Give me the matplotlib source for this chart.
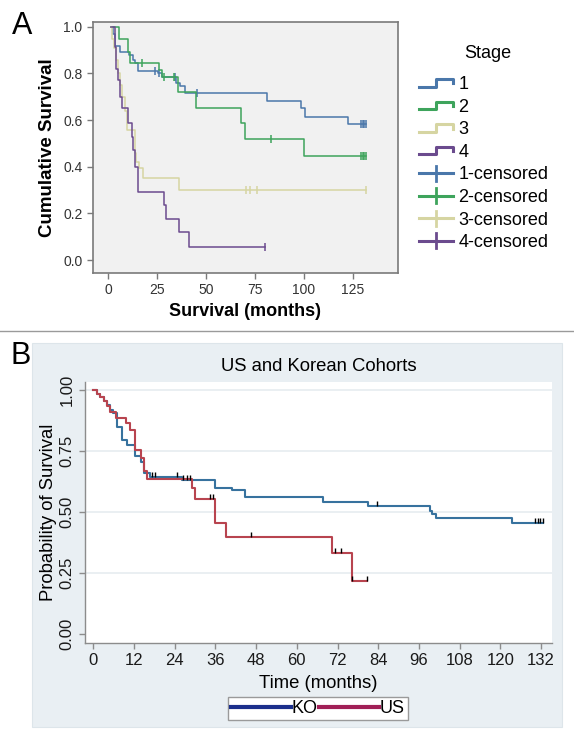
import numpy as np
import matplotlib

matplotlib.use("Agg")
import matplotlib.pyplot as plt
from matplotlib.legend_handler import HandlerBase
from matplotlib.lines import Line2D
from matplotlib.patches import Rectangle

plt.rcParams["font.family"] = ["Liberation Sans", "DejaVu Sans"]

# ---- panel A: Kaplan-Meier by stage (SPSS style) ----
stage_labels = ["1", "2", "3", "4"]
stage_colors = ["#4a77aa", "#3ea45c", "#d6d5a2", "#6b4b8e"]

stage1_t = [1.5, 2.7, 3.6, 6.1, 10.9, 12.9, 13.8, 15.5, 25.7, 27.4, 35.0, 36.7, 39.3, 81.0, 98.8, 100.5, 122.6]
stage1_s = [1.0, 0.971, 0.917, 0.893, 0.879, 0.86, 0.843, 0.81, 0.80, 0.786, 0.76, 0.745, 0.717, 0.683, 0.65, 0.614, 0.583]
stage1_end = 132
stage1_cens = [24.0, 26.0, 34.5, 45.6, 129, 130, 131, 132]

stage2_t = [1.5, 5.8, 10.4, 11.2, 26.2, 27.4, 35.9, 45.2, 68.2, 69.9, 100.2]
stage2_s = [1.0, 0.946, 0.893, 0.843, 0.814, 0.783, 0.721, 0.653, 0.586, 0.521, 0.447]
stage2_end = 132
stage2_cens = [17.2, 28.5, 34.0, 83.2, 129, 130, 131, 132]

stage3_t = [1.5, 2.0, 3.0, 4.0, 5.0, 6.0, 7.0, 8.5, 10.0, 13.8, 14.6, 16.0, 17.7, 36.4]
stage3_s = [1.0, 0.95, 0.91, 0.86, 0.80, 0.75, 0.70, 0.64, 0.557, 0.457, 0.42, 0.393, 0.35, 0.30]
stage3_end = 132
stage3_cens = [70.7, 72.5, 75.9, 131.6]

stage4_t = [1.5, 3.6, 4.4, 5.3, 6.1, 7.0, 10.4, 12.1, 12.6, 13.8, 15.5, 28.6, 29.9, 36.4, 41.3]
stage4_s = [1.0, 0.914, 0.821, 0.771, 0.70, 0.65, 0.586, 0.529, 0.471, 0.40, 0.293, 0.236, 0.174, 0.12, 0.057]
stage4_end = 80
stage4_cens = [80.0]

a_xticks = [0, 25, 50, 75, 100, 125]
a_yticks = [0.0, 0.2, 0.4, 0.6, 0.8, 1.0]

# ---- panel B: US vs Korean cohorts (Stata style) ----
ko_t = [0, 1, 2, 3, 4, 5, 5.8, 7.0, 8.4, 9.8, 12.2, 13.9, 15.0, 16.7, 26.0, 35.8, 40.8, 44.7, 67.8, 81.0, 99.3, 100, 101, 123.4]
ko_s = [1.0, 0.985, 0.97, 0.955, 0.94, 0.92, 0.905, 0.85, 0.795, 0.775, 0.73, 0.705, 0.66, 0.645, 0.63, 0.60, 0.59, 0.56, 0.541, 0.525, 0.505, 0.49, 0.475, 0.456]
ko_end = 132.7
ko_cens = [17.2, 18.1, 24.5, 26.5, 27.5, 28.5, 83.6, 130.2, 131, 131.8, 132.6]

us_t = [0, 1, 2, 3, 4, 5, 6.8, 9.7, 10.7, 12.2, 13.9, 14.9, 15.9, 29.0, 30.0, 36.0, 39.0, 70.3, 76.2]
us_s = [1.0, 0.985, 0.97, 0.955, 0.935, 0.91, 0.885, 0.865, 0.835, 0.755, 0.72, 0.67, 0.635, 0.60, 0.552, 0.454, 0.396, 0.331, 0.219]
us_end = 80.6
us_cens = [34.4, 35.3, 46.4, 71.1, 73.1, 76.4, 80.6]

b_xticks = list(range(0, 133, 12))
b_yticks = [0.0, 0.25, 0.5, 0.75, 1.0]


def km_xy(t, s, end):
    return list(t) + [end], list(s) + [s[-1]]


def value_at(t, s, times):
    idx = np.searchsorted(np.asarray(t), np.asarray(times), side="right") - 1
    return np.asarray(s)[np.clip(idx, 0, None)]


class StepHandler(HandlerBase):
    def create_artists(self, legend, orig, xd, yd, w, h, fontsize, trans):
        xs = np.array([0.0, 0.5, 0.5, 1.0, 1.0]) * w - xd
        ys = np.array([0.2, 0.2, 0.8, 0.8, 0.45]) * h - yd
        ln = Line2D(xs, ys, color=orig.get_color(), lw=2.2, transform=trans)
        return [ln]


class CensHandler(HandlerBase):
    def create_artists(self, legend, orig, xd, yd, w, h, fontsize, trans):
        c = orig.get_color()
        h1 = Line2D([-xd, w - xd], [0.5 * h - yd] * 2, color=c, lw=2.2, transform=trans)
        v1 = Line2D([0.5 * w - xd] * 2, [-0.1 * h - yd, 1.1 * h - yd], color=c, lw=2.0, transform=trans)
        return [h1, v1]


fig = plt.figure(figsize=(5.74, 7.40), dpi=100)

# ---------------- panel A ----------------
axA = fig.add_axes([0.162, 0.631, 0.531, 0.339])
axA.set_facecolor("#f1f1f1")
stage_data = [
    (stage1_t, stage1_s, stage1_end, stage1_cens),
    (stage2_t, stage2_s, stage2_end, stage2_cens),
    (stage3_t, stage3_s, stage3_end, stage3_cens),
    (stage4_t, stage4_s, stage4_end, stage4_cens),
]
step_handles, cens_handles = [], []
for (t, s, end, cens), col, lab in zip(stage_data, stage_colors, stage_labels):
    x, y = km_xy(t, s, end)
    axA.plot(x, y, drawstyle="steps-post", color=col, lw=1.1)
    axA.plot(cens, value_at(t, s, cens), ls="none", marker="|", ms=6, mew=1.1, color=col)
    step_handles.append(Line2D([], [], color=col, label=lab))
    cens_handles.append(Line2D([], [], color=col, label=lab + "-censored"))

axA.set_xlim(-7.6, 148)
axA.set_ylim(-0.056, 1.02)
axA.set_xticks(a_xticks)
axA.set_yticks(a_yticks)
axA.set_yticklabels([f"{v:.1f}" for v in a_yticks])
for sp in axA.spines.values():
    sp.set_color("#7a7a7a")
    sp.set_linewidth(1.2)
axA.tick_params(colors="#7a7a7a", labelcolor="#333333", labelsize=10, length=4, width=1)
axA.set_xlabel("Survival (months)", fontsize=13, fontweight="bold", labelpad=4)
axA.set_ylabel("Cumulative Survival", fontsize=13.5, fontweight="bold", labelpad=5)

handler_map = {h: StepHandler() for h in step_handles}
handler_map.update({h: CensHandler() for h in cens_handles})
legA = fig.legend(
    handles=step_handles + cens_handles,
    handler_map=handler_map,
    loc="upper left",
    bbox_to_anchor=(0.715, 1 - 67 / 740),
    frameon=False,
    fontsize=13,
    handlelength=1.85,
    handletextpad=0.3,
    labelspacing=0.31,
    borderpad=0.0,
)
fig.text(488 / 574, 1 - 53 / 740, "Stage", fontsize=13, ha="center", va="center")

fig.text(0.02, 0.985, "A", fontsize=22, va="top", ha="left")

# separator between panels
fig.add_artist(Line2D([0, 1], [1 - 331 / 740] * 2, color="#9a9a9a", lw=1.0))

# ---------------- panel B ----------------
fig.add_artist(Rectangle((32 / 574, 1 - 727 / 740), (562 - 32) / 574, (727 - 343) / 740,
                         transform=fig.transFigure, facecolor="#e9eff3", edgecolor="#dde5ea",
                         lw=0.8, zorder=0))
fig.text(0.018, 1 - 341 / 740, "B", fontsize=22, va="top", ha="left")

axB = fig.add_axes([0.148, 0.1311, 0.814, 0.3527])
axB.set_facecolor("white")
for yv in b_yticks[1:]:
    axB.axhline(yv, color="#e6ecf0", lw=1.2, zorder=0)

ko_x, ko_y = km_xy(ko_t, ko_s, ko_end)
us_x, us_y = km_xy(us_t, us_s, us_end)
axB.plot(ko_x, ko_y, drawstyle="steps-post", color="#37729e", lw=1.5)
axB.plot(us_x, us_y, drawstyle="steps-post", color="#b8444f", lw=1.5)
for t, s, cens in [(ko_t, ko_s, ko_cens), (us_t, us_s, us_cens)]:
    base = value_at(t, s, cens)
    axB.vlines(cens, base, base + 0.02, color="black", lw=1.0, zorder=5)

axB.set_xlim(-2.5, 135.3)
axB.set_ylim(-0.037, 1.033)
axB.set_xticks(b_xticks)
axB.set_yticks(b_yticks)
axB.set_yticklabels([f"{v:.2f}" for v in b_yticks], rotation=90, va="center")
for side in ("top", "right"):
    axB.spines[side].set_visible(False)
for side in ("left", "bottom"):
    axB.spines[side].set_color("#8c8c8c")
    axB.spines[side].set_linewidth(1.0)
axB.tick_params(colors="#8c8c8c", labelcolor="#1a1a1a", labelsize=12, length=4, width=1)
axB.set_title("US and Korean Cohorts", fontsize=13.3, pad=8)
axB.set_xlabel("Time (months)", fontsize=13.3, labelpad=5)
axB.set_ylabel("Probability of Survival", fontsize=13.3, labelpad=2)

legB = fig.legend(
    handles=[Line2D([], [], color="#1b2f8c", lw=3, label="KO"),
             Line2D([], [], color="#a11f57", lw=3, label="US")],
    loc="center",
    bbox_to_anchor=(318 / 574, 1 - 708.5 / 740),
    ncol=2,
    fontsize=13,
    handlelength=3.3,
    handletextpad=0.05,
    columnspacing=0.1,
    borderpad=0.15,
    fancybox=False,
    edgecolor="#9a9a9a",
    framealpha=1,
)
legB.get_frame().set_linewidth(1.0)

fig.savefig("out.png", dpi=100)
